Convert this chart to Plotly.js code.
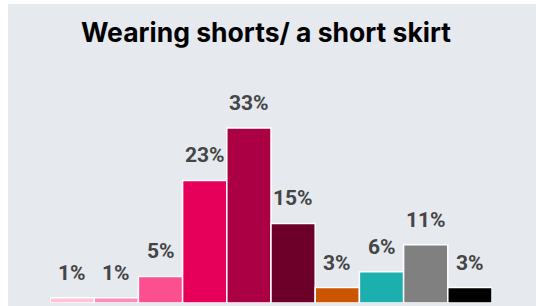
<!DOCTYPE html>
<html>
<head>
<meta charset="utf-8">
<script src="https://cdn.plot.ly/plotly-3.0.1.min.js"></script>
<style>
html,body{margin:0;padding:0;background:#ffffff;width:536px;height:306px;overflow:hidden;}
#chart{position:absolute;left:8px;top:4px;width:528px;height:302px;}
</style>
</head>
<body>
<div id="chart"></div>
<script>
const categories = ["A","B","C","D","E","F","G","H","I","J"];
const values = [1.0, 1.0, 5.0, 23.1, 33.0, 15.0, 2.9, 5.9, 11.0, 2.9];
const labels = ["1%","1%","5%","23%","33%","15%","3%","6%","11%","3%"];
const colors = ["#ffc2d9","#fd8dbb","#fc4f8f","#e6005a","#ac0045","#6c0029","#cc5500","#1bafad","#808080","#000000"];

const trace = {
  type: "bar",
  x: categories,
  y: values,
  marker: {color: colors, line: {color: "#ffffff", width: 1.5}},
  hoverinfo: "none"
};

const annotations = categories.map((c, i) => ({
  x: c, y: values[i], xref: "x", yref: "y",
  text: labels[i], showarrow: false,
  yanchor: "bottom", yshift: 11,
  font: {family: "Roboto, 'Open Sans', sans-serif", size: 21, color: "#454545", weight: 700}
}));

const layout = {
  width: 528, height: 302,
  paper_bgcolor: "#e6e9ee",
  plot_bgcolor: "#e6e9ee",
  margin: {l: 42, r: 44, t: 100, b: 3, pad: 0},
  bargap: 0,
  showlegend: false,
  title: {
    text: "<b>Wearing shorts/ a short skirt</b>",
    x: 0.4886, xref: "container", xanchor: "center",
    y: 0.904, yref: "container", yanchor: "middle",
    font: {family: "Inter, Roboto, sans-serif", size: 26.5, color: "#000000"}
  },
  xaxis: {showticklabels: false, showgrid: false, zeroline: false, showline: false, ticks: "", range: [-0.5, 9.5], fixedrange: true},
  yaxis: {showticklabels: false, showgrid: false, zeroline: false, showline: false, ticks: "", range: [0, 37.5], fixedrange: true},
  annotations: annotations
};

Plotly.newPlot("chart", [trace], layout, {displayModeBar: false, staticPlot: true});
</script>
</body>
</html>
